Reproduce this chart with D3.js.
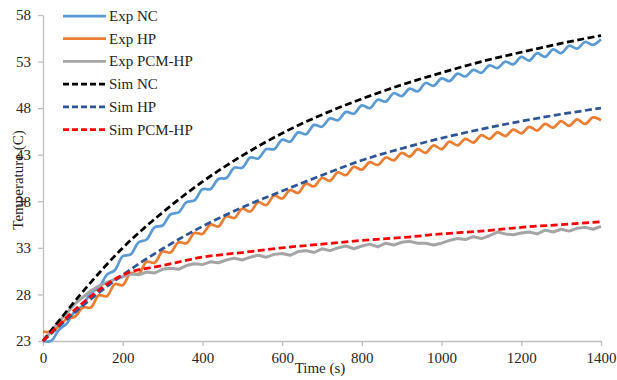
<!DOCTYPE html>
<html>
<head>
<meta charset="utf-8">
<script src="https://cdn.jsdelivr.net/npm/d3@7"></script>
<style>
  body { margin: 0; background: #fff; }
  svg text { font-family: 'Times New Roman', 'Liberation Serif', serif; fill: #262626; }
</style>
</head>
<body>
<div id="chart"></div>
<script>
// sample times (s)
const expTime = d3.range(0, 1401, 20);
const simTime = [0, 100, 200, 300, 400, 500, 600, 700, 800, 900, 1000, 1100, 1200, 1300, 1400];

// measured temperatures (C), one value every 20 s
const expNC = [
  23.0, 23.0, 24.2, 24.9, 26.2, 26.8, 28.2, 28.7, 30.1, 30.6,
  32.1, 32.3, 33.6, 33.9, 35.2, 35.4, 36.6, 36.8, 37.9, 38.1,
  39.3, 39.3, 40.4, 40.5, 41.6, 41.6, 42.7, 42.6, 43.6, 43.6,
  44.6, 44.4, 45.4, 45.2, 46.2, 46.0, 46.9, 46.7, 47.6, 47.4,
  48.3, 48.0, 48.9, 48.7, 49.6, 49.3, 50.1, 49.8, 50.7, 50.4,
  51.2, 50.9, 51.7, 51.4, 52.1, 51.8, 52.6, 52.3, 53.0, 52.7,
  53.5, 53.1, 53.9, 53.5, 54.3, 53.9, 54.7, 54.4, 55.1, 54.8,
  55.4,
];
const expHP = [
  24.0, 24.0, 24.6, 25.4, 25.6, 26.6, 26.6, 27.9, 27.8, 29.1,
  29.0, 30.3, 30.2, 31.5, 31.4, 32.6, 32.5, 33.6, 33.5, 34.6,
  34.5, 35.5, 35.3, 36.4, 36.2, 37.2, 36.9, 37.9, 37.6, 38.6,
  38.3, 39.2, 38.9, 39.9, 39.6, 40.5, 40.2, 41.1, 40.8, 41.7,
  41.4, 42.2, 41.9, 42.7, 42.4, 43.2, 42.8, 43.6, 43.2, 44.0,
  43.6, 44.4, 44.0, 44.7, 44.3, 45.1, 44.7, 45.4, 45.0, 45.7,
  45.3, 46.0, 45.6, 46.3, 45.9, 46.6, 46.1, 46.8, 46.3, 47.0,
  46.7,
];
const expPCM = [
  23.0, 24.0, 25.1, 26.0, 27.0, 27.7, 28.4, 28.9, 29.3, 29.6,
  29.9, 30.2, 30.1, 30.4, 30.3, 30.7, 30.8, 30.7, 31.1, 31.3,
  31.2, 31.5, 31.4, 31.7, 31.9, 31.7, 32.0, 32.2, 32.0, 32.3,
  32.4, 32.2, 32.6, 32.7, 32.5, 32.9, 32.7, 33.0, 33.2, 32.9,
  33.2, 33.4, 33.1, 33.5, 33.3, 33.6, 33.7, 33.5, 33.5, 33.3,
  33.5, 33.8, 34.0, 33.9, 34.2, 34.0, 34.3, 34.7, 34.5, 34.4,
  34.6, 34.7, 34.5, 34.9, 34.7, 35.0, 34.8, 35.1, 35.2, 35.0,
  35.3,
];

// simulated temperatures (C), one value every 100 s
const simNC = [23.0, 28.3, 33.0, 36.8, 40.1, 42.9, 45.3, 47.3, 49.0, 50.5, 51.8, 53.0, 54.0, 54.95, 55.8];
const simHP = [23.0, 26.8, 30.1, 32.9, 35.3, 37.35, 39.1, 40.8, 42.4, 43.67, 44.78, 45.75, 46.6, 47.35, 48.0];
const simPCM = [23.0, 27.1, 30.1, 31.1, 32.0, 32.5, 33.0, 33.4, 33.8, 34.1, 34.5, 34.8, 35.2, 35.5, 35.8];

const xTicks = [0, 200, 400, 600, 800, 1000, 1200, 1400];
const yTicks = [23, 28, 33, 38, 43, 48, 53, 58];

const series = [
  { name: 'Exp NC', t: expTime, v: expNC, color: '#5b9bd5', dash: null, curve: d3.curveCatmullRom },
  { name: 'Exp HP', t: expTime, v: expHP, color: '#ed7d31', dash: null, curve: d3.curveCatmullRom },
  { name: 'Exp PCM-HP', t: expTime, v: expPCM, color: '#a5a5a5', dash: null, curve: d3.curveLinear },
  { name: 'Sim NC', t: simTime, v: simNC, color: '#000000', dash: '7,3.5', curve: d3.curveMonotoneX },
  { name: 'Sim HP', t: simTime, v: simHP, color: '#2f5597', dash: '7,3.5', curve: d3.curveMonotoneX },
  { name: 'Sim PCM-HP', t: simTime, v: simPCM, color: '#ff0000', dash: '7,3.5', curve: d3.curveMonotoneX },
];

const width = 617;
const height = 380;
const serif = "'Times New Roman', 'Liberation Serif', serif";

const svg = d3.select('#chart')
  .append('svg')
  .attr('width', width)
  .attr('height', height);

const x = d3.scaleLinear().domain([0, 1400]).range([43, 601]);
const y = d3.scaleLinear().domain([23, 58]).range([341, 15]);

// axes
const xAxis = svg.append('g')
  .attr('transform', `translate(0,${y(23)})`)
  .call(d3.axisBottom(x).tickValues(xTicks).tickFormat(d3.format('d'))
    .tickSize(5).tickSizeOuter(0).tickPadding(6));
const yAxis = svg.append('g')
  .attr('transform', `translate(${x(0)},0)`)
  .call(d3.axisLeft(y).tickValues(yTicks).tickFormat(d3.format('d'))
    .tickSize(5).tickSizeOuter(0).tickPadding(7));

[xAxis, yAxis].forEach((g) => {
  g.attr('font-family', serif);
  g.select('.domain').attr('stroke', '#bfbfbf').attr('stroke-width', 1.3);
  g.selectAll('.tick line').attr('stroke', '#bfbfbf').attr('stroke-width', 1.3);
  g.selectAll('.tick text')
    .style('font-family', serif)
    .style('font-size', '15px')
    .attr('fill', '#262626');
});

// lines
const lineFor = (s) => d3.line()
  .x((d, i) => x(s.t[i]))
  .y((d) => y(d))
  .curve(s.curve);

series.forEach((s) => {
  svg.append('path')
    .datum(s.v)
    .attr('fill', 'none')
    .attr('stroke', s.color)
    .attr('stroke-width', s.name === 'Exp PCM-HP' ? 3 : 2.75)
    .attr('stroke-dasharray', s.dash)
    .attr('stroke-linejoin', 'round')
    .attr('d', lineFor(s));
});

// axis titles
svg.append('text')
  .attr('x', 320)
  .attr('y', 373)
  .attr('text-anchor', 'middle')
  .style('font-family', serif)
  .style('font-size', '15px')
  .text('Time (s)');

svg.append('text')
  .attr('transform', 'translate(23,180) rotate(-90)')
  .attr('text-anchor', 'middle')
  .style('font-family', serif)
  .style('font-size', '15px')
  .text('Temperature (C)');

// legend
const legend = svg.append('g');
series.forEach((s, i) => {
  const ly = 16 + i * 22.7;
  legend.append('line')
    .attr('x1', 63).attr('x2', 106)
    .attr('y1', ly).attr('y2', ly)
    .attr('stroke', s.color)
    .attr('stroke-width', 2.75)
    .attr('stroke-dasharray', s.dash ? '6,3' : null);
  legend.append('text')
    .attr('x', 109)
    .attr('y', ly + 5)
    .style('font-family', serif)
    .style('font-size', '15px')
    .text(s.name);
});
</script>
</body>
</html>
